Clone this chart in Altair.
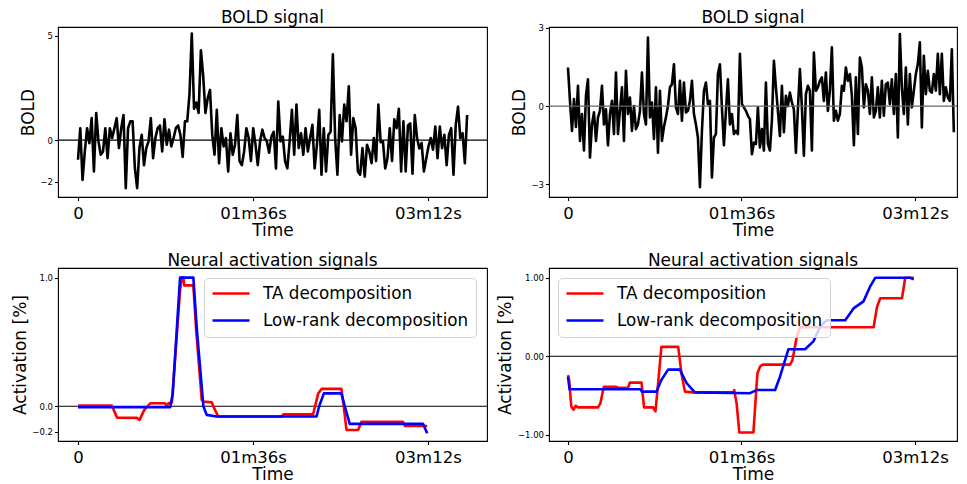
import altair as alt
import pandas as pd

FONT = "DejaVu Sans"

# ---------------- data ----------------
bold_end = 213.5  # time (s) of last BOLD sample

bold_left = [
    -0.94, 0.57, -1.9, -0.54, 0.57, -0.15, 1.05, -1.5, 1.3, -0.06,
    -0.7, -0.54, 0.57, -0.86, 0.57, 0.1, 0.57, 1.05, -0.38, 0.57,
    1.2, -2.3, 0.57, 0.9, 0.9, -1.35, -2.3, -0.38, 0.25, -1.2,
    -0.38, -0.06, 1.05, -0.86, 0.1, 0.57, 0.7, -0.54, 1.0, -0.22,
    0.5, -0.3, 0.1, 0.57, 0.7, 0.25, -0.8, 0.9, 0.9, 2.2,
    5.1, 1.5, 1.8, 1.3, 4.3, 3.1, 1.3, 2.0, 2.4,
    0.25, -0.7, 1.45, -1.1, 0.57, -0.3, 0.1, -1.5, 0.33, -0.7,
    -0.22, 1.2, -1.0, -1.2, -0.54, 0.57, 0.1, -1.0, 0.57, -0.22,
    -1.2, -0.06, 0.5, 0.1, -0.06, -0.6, 0.17, 0.4, -1.35, 1.85,
    -0.06, 0.17, -1.0, -1.35, -0.06, 1.45, -0.7, 1.7, -0.38, 0.33,
    -0.7, 0.57, -0.54, 0.1, 0.73, -1.35, -0.22, 1.45, -1.65, 0.57,
    -1.5, 0.25, 0.4, 4.1, 0.1, -1.65, 1.2,
    -0.06, 1.7, 0.9, 2.57, -0.7, 1.05, 0.57, -1.5, -1.65, -0.38,
    -1.75, -0.22, -0.54, -1.1, 0.1, -1.0, 1.7, -0.1, -0.06, -1.35,
    -0.86, 0.57, -1.0, 1.0, 0.57, 1.5, -1.5, 0.9, -1.5, 0.7,
    0.8, -1.6, 1.2, 0.1, -0.4, -0.14, -1.5, -0.9, -0.3, 0.1,
    -0.46, 0.65, -0.86, 0.65, -0.38, 0.25, -1.2, 0.25, 0.57, -1.65,
    0.73, 1.6, 0.1, 0.33, -1.1, 1.2,
]

bold_right = [
    1.48, 0.2, -0.95, 0.27, -0.8, 0.78, -1.33, -0.3, -1.7, 0.4,
    1.03, -1.97, -0.7, -0.24, -1.33, -0.43, -0.18, 0.78, -0.7, -0.12,
    -1.5, -0.3, 0.2, -1.07, 1.29, -1.07, -0.18, 0.72, -1.33, 1.35,
    -0.3, 0.33, -0.95, 0.0, -0.88, -0.7, -0.18, 1.29, -0.3, -0.7,
    2.63, -0.43, 0.14, -1.26, 0.72, -1.78, 0.59, -1.33, -0.8, -0.43,
    0.0, 0.72, 0.84, 1.6, -0.05, -0.3, 0.97, -0.56, 0.9, -0.24,
    -0.18, 0.2, 0.97, -0.3, -0.7, -1.2, -3.1,
    -0.95, 0.59, 0.9, 0.08, 0.2, -2.73, -1.2, -1.07, 1.23, 1.6,
    -0.05, -1.5, -0.18, 1.03, -0.7, -0.3, -1.07, -0.95, -1.07, 2.0,
    0.08, -0.05, -0.18, -0.37, -0.5, -1.84, -1.4, -1.45, -0.05, -1.58,
    -0.88, -1.7, 0.9, -1.45, -1.7, -0.56, 1.74, 0.72, -0.18, -1.14,
    0.78, -1.0, 0.4, 0.0, 0.52, 0.14, -0.12, -1.78, -0.12, 1.42,
    -0.05, -1.9, 0.46, 0.78, 0.59, -1.7, 2.05, 0.59, 0.72, 0.97,
    1.1, 0.2, 1.29, -0.18, 0.59,
    2.25, -0.56, -0.18, -0.56, -0.3, 0.78, 0.59, 1.48, 0.97, 1.23,
    0.4, -1.5, 1.1, -1.07, 1.86, 1.48, -0.05, 0.84, 0.59, -0.3,
    1.1, -0.43, -0.18, 0.72, -0.43, 0.97, -0.37, 0.84, 0.9, 0.08,
    1.03, -0.3, 1.23, -1.2, 2.76, 0.72, -0.3, 1.48, -0.7, 1.23,
    -0.05, 0.59, 1.23, 1.61, 2.44, -0.82, 1.93, 0.46, 1.35, 0.59,
    0.52, 1.23, 0.59, 2.0, 0.46, 2.0, 0.2, 0.72, 0.33, 0.2,
    2.18, -1.0,
]

ta_left_t = [0, 18.6, 21.4, 32.3, 33.8, 36.3, 39.6, 47.8, 48.7, 49.6,
             51.5, 56.0, 56.9, 57.9, 58.2, 63.3, 64.8, 67.9, 68.8, 73.4,
             75.2, 77.0, 111.7, 112.7, 129.0, 131.8, 133.6, 144.5, 145.8, 147.3,
             153.7, 155.5, 178.3, 179.4, 191.6]
ta_left_v = [0.005, 0.005, -0.088, -0.09, -0.106, -0.03, 0.023, 0.023, 0.0, 0.023,
             0.03, 0.9, 1.0, 1.0, 0.94, 0.94, 0.6, 0.05, 0.036, 0.03,
             -0.03, -0.08, -0.08, -0.062, -0.062, 0.1, 0.135, 0.135, 0.0, -0.184,
             -0.184, -0.12, -0.12, -0.153, -0.153]
lr_left_t = [0, 50.6, 52.0, 56.0, 63.3, 65.2, 68.8, 70.6, 76.1, 130.9,
             132.3, 134.9, 144.5, 146.4, 149.1, 189.3, 191.6]
lr_left_v = [-0.008, -0.008, 0.1, 1.0, 1.0, 0.6, 0.0, -0.067, -0.08, -0.08,
             0.0, 0.1, 0.1, 0.0, -0.137, -0.137, -0.21]

ta_right_t = [0, 0.6, 1.85, 3.1, 4.25, 5.5, 16.6, 17.9, 19.8, 26.8,
              27.7, 33.3, 34.2, 40.7, 42.1, 47.1, 48.4, 49.9, 51.7, 61.0,
              62.8, 64.7, 69.3, 91.5, 92.0, 93.3, 94.8, 102.6, 104.8, 106.3,
              107.7, 122.9, 124.2, 126.6, 128.4, 169.1, 171.0, 172.8, 184.8, 186.6,
              191.3]
ta_right_v = [-0.24, -0.3, -0.64, -0.68, -0.63, -0.65, -0.65, -0.6, -0.39, -0.39,
              -0.4, -0.4, -0.335, -0.335, -0.65, -0.65, -0.7, -0.34, 0.12, 0.12,
              -0.22, -0.45, -0.46, -0.46, -0.43, -0.6, -0.97, -0.97, -0.22, -0.13,
              -0.106, -0.106, -0.05, 0.25, 0.37, 0.37, 0.63, 0.74, 0.74, 1.0,
              1.0]
lr_right_t = [0, 0.9, 40.0, 41.0, 49.0, 51.7, 55.4, 61.9, 65.6, 70.2,
              100.7, 104.4, 114.6, 117.3, 122.0, 131.2, 135.8, 139.5, 143.2, 153.4,
              158.0, 163.5, 167.2, 170.0, 189.4, 191.3]
lr_right_v = [-0.26, -0.42, -0.42, -0.45, -0.45, -0.3, -0.17, -0.17, -0.34, -0.46,
              -0.47, -0.43, -0.43, -0.26, 0.09, 0.09, 0.19, 0.38, 0.46, 0.46,
              0.61, 0.7, 0.89, 1.0, 1.0, 0.98]

series_names = ["TA decomposition", "Low-rank decomposition"]
series_colors = ["#ff0000", "#0000ff"]

tick_secs = [0, 96, 192]
tick_labels = ["0", "01m36s", "03m12s"]

# ---------------- helpers ----------------
label_expr = " : ".join(
    f"datum.value == {s} ? '{l}'" for s, l in zip(tick_secs[:-1], tick_labels[:-1])
) + f" : '{tick_labels[-1]}'"

LEFT_W, RIGHT_W = 429, 408
TOP_H, BOT_H = 170, 173
XDOM_L = [-10.97, 224.4]
XDOM_R = [-10.5, -10.5 + RIGHT_W / 1.8073]
LINE_W = 2.6


def x_enc(dom):
    return alt.X(
        "t:Q",
        scale=alt.Scale(domain=dom, nice=False, zero=False),
        axis=alt.Axis(values=tick_secs, labelExpr=label_expr, title="Time",
                      labelFontSize=16.5, titleFontSize=17, labelPadding=5,
                      titlePadding=0.5, tickSize=3.5, labelFlush=False,
                      labelOverlap=False),
    )


def y_enc(title, dom, vals, fmt):
    return alt.Y(
        "v:Q",
        scale=alt.Scale(domain=dom, nice=False, zero=False),
        axis=alt.Axis(values=vals, format=fmt, title=title, labelFontSize=8.5,
                      titleFontSize=17, labelPadding=2, titlePadding=2.5,
                      tickSize=3.5, labelOverlap=False),
    )


def title(text, offset):
    return alt.TitleParams(text, fontSize=17, font=FONT, fontWeight="normal",
                           color="black", anchor="middle", offset=offset)


zero_df = pd.DataFrame({"z": [0]})


def bold_panel(vals, xdom, ydom, yvals, width, zero_color, toff):
    n = len(vals)
    df = pd.DataFrame({"t": [i * bold_end / (n - 1) for i in range(n)], "v": vals})
    zero = alt.Chart(zero_df).mark_rule(color=zero_color, strokeWidth=1.1).encode(
        y=alt.datum(0))
    line = alt.Chart(df).mark_line(color="black", strokeWidth=LINE_W, clip=True,
                                   strokeJoin="round").encode(
        x=x_enc(xdom), y=y_enc("BOLD", ydom, yvals, "d"))
    return alt.layer(line, zero).properties(width=width, height=TOP_H,
                                            title=title("BOLD signal", toff))


def act_panel(ta_t, ta_v, lr_t, lr_v, xdom, ydom, yvals, fmt, width, lx, ly):
    df_ta = pd.DataFrame({"t": ta_t, "v": ta_v, "s": series_names[0]})
    df_lr = pd.DataFrame({"t": lr_t, "v": lr_v, "s": series_names[1]})
    cscale = alt.Scale(domain=series_names, range=series_colors)
    legend = alt.Legend(
        title=None, orient="none", legendX=lx, legendY=ly,
        symbolType="stroke", symbolSize=1369, symbolStrokeWidth=LINE_W,
        labelFontSize=16.8, labelFont=FONT, labelColor="black", labelLimit=400,
        fillColor="rgba(255,255,255,0.8)", strokeColor="#d0d0d0",
        cornerRadius=4, padding=7, rowPadding=9, labelOffset=12,
        clipHeight=17, symbolOffset=0,
    )
    zero = alt.Chart(zero_df).mark_rule(color="black", strokeWidth=1.1).encode(
        y=alt.datum(0))
    ta = alt.Chart(df_ta).mark_line(strokeWidth=LINE_W, clip=True,
                                    strokeJoin="round").encode(
        x=x_enc(xdom), y=y_enc("Activation [%]", ydom, yvals, fmt),
        color=alt.Color("s:N", scale=cscale, legend=legend))
    lr = alt.Chart(df_lr).mark_line(strokeWidth=LINE_W, clip=True,
                                    strokeJoin="round").encode(
        x=x_enc(xdom), y=y_enc("Activation [%]", ydom, yvals, fmt),
        color=alt.Color("s:N", scale=cscale, legend=legend))
    return alt.layer(zero, ta, lr).properties(
        width=width, height=BOT_H, title=title("Neural activation signals", -2))


p_tl = bold_panel(bold_left, XDOM_L, [-2.72, 5.41], [-2, 0, 5], LEFT_W, "black", -0.2)
p_tr = bold_panel(bold_right, XDOM_R, [-3.48, 3.03], [-3, 0, 3], RIGHT_W, "#666666", -3.65)
p_bl = act_panel(ta_left_t, ta_left_v, lr_left_t, lr_left_v, XDOM_L,
                 [-0.27, 1.075], [-0.2, 0.0, 1.0], ".1f", LEFT_W, 146, 10)
p_br = act_panel(ta_right_t, ta_right_v, lr_right_t, lr_right_v, XDOM_R,
                 [-1.079, 1.125], [-1.0, 0.0, 1.0], ".2f", RIGHT_W, 9, 10)

chart = alt.concat(
    p_tl, p_tr, p_bl, p_br, columns=2,
    spacing=alt.RowColnumber(row=71, column=62), bounds="flush",
).resolve_scale(color="independent").resolve_legend(color="independent").properties(
    padding={"left": 2, "top": 0, "right": 0, "bottom": 0},
    background="white",
).configure_view(
    stroke="black", strokeWidth=1.1,
).configure_axis(
    grid=False, domain=False, tickColor="black", tickWidth=1.1,
    labelColor="black", titleColor="black", labelFont=FONT, titleFont=FONT,
    titleFontWeight="normal",
).configure_text(font=FONT)

chart.save("out.html", embed_options={"renderer": "svg", "actions": False})
